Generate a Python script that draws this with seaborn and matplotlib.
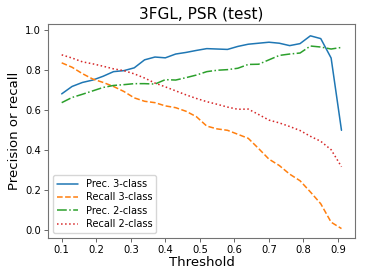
import matplotlib
matplotlib.use("Agg")
import matplotlib.pyplot as plt
import numpy as np
import pandas as pd
import seaborn as sns

threshold = np.round(np.arange(0.10, 0.92, 0.03), 2)

prec_3class = [0.680, 0.717, 0.737, 0.749, 0.768, 0.791, 0.796, 0.810, 0.850, 0.864,
               0.860, 0.879, 0.887, 0.897, 0.906, 0.904, 0.902, 0.917, 0.928, 0.933,
               0.938, 0.933, 0.921, 0.931, 0.970, 0.956, 0.859, 0.498]
recall_3class = [0.835, 0.813, 0.781, 0.754, 0.737, 0.717, 0.692, 0.660, 0.643, 0.636,
                 0.620, 0.611, 0.593, 0.566, 0.519, 0.505, 0.498, 0.478, 0.458, 0.407,
                 0.354, 0.322, 0.279, 0.246, 0.190, 0.131, 0.039, 0.007]
prec_2class = [0.636, 0.662, 0.678, 0.695, 0.712, 0.722, 0.726, 0.731, 0.731, 0.729,
               0.751, 0.749, 0.761, 0.774, 0.791, 0.798, 0.801, 0.808, 0.827, 0.828,
               0.850, 0.872, 0.879, 0.884, 0.919, 0.914, 0.904, 0.912]
recall_2class = [0.875, 0.859, 0.840, 0.830, 0.818, 0.805, 0.796, 0.780, 0.759, 0.734,
                 0.715, 0.695, 0.675, 0.657, 0.641, 0.628, 0.614, 0.603, 0.604, 0.577,
                 0.549, 0.535, 0.517, 0.497, 0.468, 0.443, 0.401, 0.316]

series = {
    "Prec. 3-class": prec_3class,
    "Recall 3-class": recall_3class,
    "Prec. 2-class": prec_2class,
    "Recall 2-class": recall_2class,
}
styles = {
    "Prec. 3-class": "-",
    "Recall 3-class": "--",
    "Prec. 2-class": "-.",
    "Recall 2-class": ":",
}
colors = sns.color_palette("tab10", 4)

sns.set_style("white", {"axes.edgecolor": "0.45", "xtick.bottom": True, "ytick.left": True,
                        "text.color": "black", "axes.labelcolor": "black",
                        "xtick.color": "black", "ytick.color": "black"})
plt.rcParams["font.family"] = ["DejaVu Sans"]

fig = plt.figure(figsize=(3.74, 2.8), dpi=100)
ax = fig.add_axes([0.128, 0.15, 0.822, 0.765])

for (name, vals), c in zip(series.items(), colors):
    df = pd.DataFrame({"Threshold": threshold, "value": vals})
    sns.lineplot(data=df, x="Threshold", y="value", ax=ax, color=c,
                 linestyle=styles[name], linewidth=1.1, label=name)

ax.set_xticks(np.arange(0.1, 0.95, 0.1))
ax.set_yticks(np.arange(0.0, 1.01, 0.2))
ax.set_xlim(0.06, 0.95)
ax.set_ylim(-0.04, 1.03)
ax.tick_params(labelsize=7.2, length=3, width=0.6, color="0.3", pad=2)
ax.set_xlabel("Threshold", fontsize=9.5, labelpad=1)
ax.set_ylabel("Precision or recall", fontsize=9.5, labelpad=3)
ax.set_title("3FGL, PSR (test)", fontsize=11, pad=4)
for s in ax.spines.values():
    s.set_linewidth(0.8)
leg = ax.legend(loc="lower left", fontsize=7, frameon=True, handlelength=2.2,
                borderpad=0.4, labelspacing=0.35)
leg.get_frame().set_edgecolor("0.8")

fig.savefig("out.png", dpi=100)
